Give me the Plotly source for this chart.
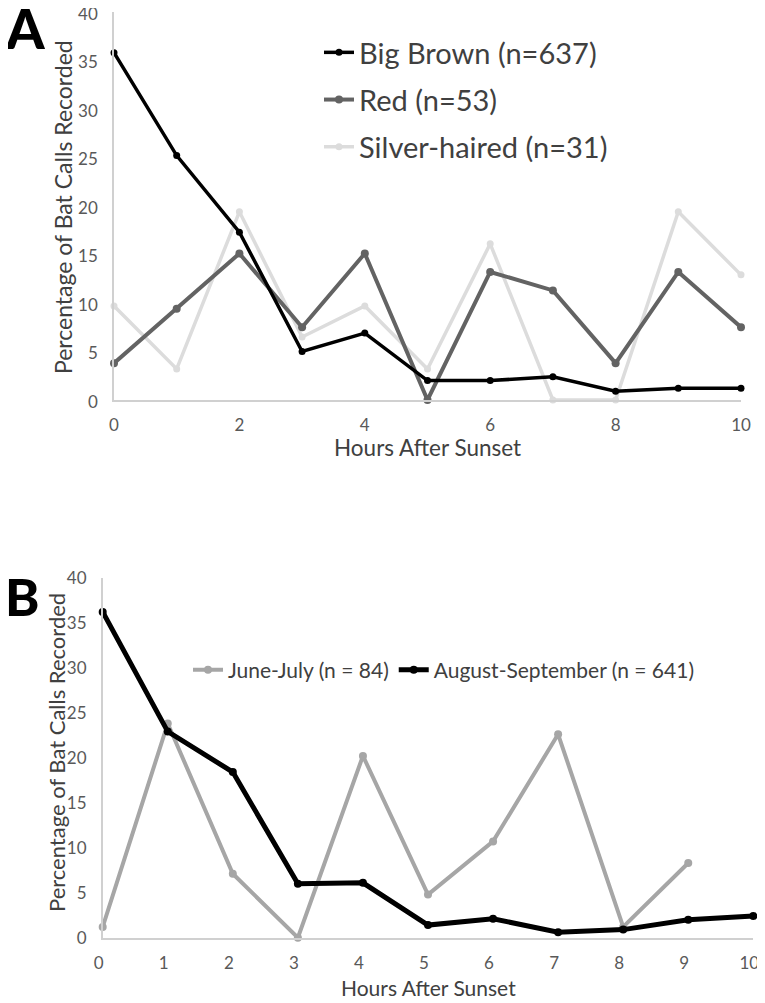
import plotly.graph_objects as go

W, H = 765, 1003
OFF = 8  # page body margin offset of the rendered html

# ---------------- data ----------------
hours_a = [0, 1, 2, 3, 4, 5, 6, 7, 8, 9, 10]
big_brown = [35.8, 25.2, 17.3, 5.0, 6.9, 2.0, 2.0, 2.4, 0.9, 1.2, 1.2]
red = [3.8, 9.4, 15.1, 7.5, 15.1, 0.0, 13.2, 11.3, 3.8, 13.2, 7.5]
silver = [9.7, 3.2, 19.4, 6.5, 9.7, 3.2, 16.1, 0.0, 0.0, 19.4, 12.9]

hours_b = [0, 1, 2, 3, 4, 5, 6, 7, 8, 9, 10]
june_july = [1.2, 23.8, 7.1, 0.0, 20.2, 4.8, 10.7, 22.6, 1.2, 8.3, None]
aug_sep = [36.2, 22.9, 18.4, 6.0, 6.1, 1.4, 2.1, 0.6, 0.9, 2.0, 2.4]

ticks_a_x = [0, 2, 4, 6, 8, 10]
ticks_b_x = [0, 1, 2, 3, 4, 5, 6, 7, 8, 9, 10]
ticks_y = [0, 5, 10, 15, 20, 25, 30, 35, 40]

FONT = "Lato"
TICKC = "#595959"
TITLEC = "#404040"
AXC = "#d0d0d0"

fig = go.Figure()

# Panel A traces (drawn light first, black on top)
fig.add_trace(go.Scatter(x=hours_a, y=silver, name="Silver-haired (n=31)", mode="lines+markers",
                         line=dict(color="#dcdcdc", width=3.5), marker=dict(size=7, color="#dcdcdc"),
                         xaxis="x", yaxis="y", legend="legend", legendgroup="s", legendrank=3,
                         cliponaxis=False))
fig.add_trace(go.Scatter(x=hours_a, y=red, name="Red (n=53)", mode="lines+markers",
                         line=dict(color="#636363", width=4), marker=dict(size=8, color="#636363"),
                         xaxis="x", yaxis="y", legend="legend", legendgroup="r", legendrank=2,
                         cliponaxis=False))
fig.add_trace(go.Scatter(x=hours_a, y=big_brown, name="Big Brown (n=637)", mode="lines+markers",
                         line=dict(color="#000000", width=3.5), marker=dict(size=7, color="#000000"),
                         xaxis="x", yaxis="y", legend="legend", legendgroup="b", legendrank=1,
                         cliponaxis=False))

# Panel B traces
fig.add_trace(go.Scatter(x=hours_b, y=june_july, name="June-July (n = 84)", mode="lines+markers",
                         line=dict(color="#a6a6a6", width=4), marker=dict(size=8, color="#a6a6a6"),
                         xaxis="x2", yaxis="y2", legend="legend2", cliponaxis=False))
fig.add_trace(go.Scatter(x=hours_b, y=aug_sep, name="August-September (n = 641)", mode="lines+markers",
                         line=dict(color="#000000", width=5), marker=dict(size=8, color="#000000"),
                         xaxis="x2", yaxis="y2", legend="legend2", cliponaxis=False))

def px_x(p):
    return (p - OFF) / W

def px_y(p):
    return 1 - (p - OFF) / H

axis_common = dict(showgrid=False, zeroline=False, showline=True, linecolor=AXC, linewidth=1.5,
                   ticks="", automargin=False, ticklabeloverflow="allow",
                   tickfont=dict(family=FONT, size=17, color=TICKC))

fig.update_layout(
    width=W, height=H,
    margin=dict(l=0, r=0, t=0, b=0, pad=0, autoexpand=False),
    paper_bgcolor="white", plot_bgcolor="white",
    font=dict(family=FONT),
    xaxis=dict(domain=[px_x(114), px_x(741)], range=[0, 10], anchor="y",
               tickvals=ticks_a_x, ticklabelstandoff=9, **axis_common),
    yaxis=dict(domain=[px_y(400), px_y(12)], range=[0, 40], anchor="x",
               tickvals=ticks_y, ticklabelstandoff=11, ticklabelshift=2, **axis_common),
    xaxis2=dict(domain=[px_x(102.7), px_x(753.3)], range=[0, 10], anchor="y2",
                tickvals=ticks_b_x, ticklabelstandoff=9, ticklabelshift=-4, **axis_common),
    yaxis2=dict(domain=[px_y(937.7), px_y(577.7)], range=[0, 40], anchor="x2",
                tickvals=ticks_y, ticklabelstandoff=11, **axis_common),
    legend=dict(x=px_x(319), y=px_y(27), xanchor="left", yanchor="top",
                orientation="v", traceorder="grouped", tracegroupgap=6.5, itemwidth=30,
                font=dict(family=FONT, size=29, color=TITLEC), bgcolor="rgba(0,0,0,0)"),
    legend2=dict(x=px_x(188), y=px_y(670), xanchor="left", yanchor="middle",
                 orientation="h", itemwidth=30,
                 font=dict(family=FONT, size=21, color=TITLEC), bgcolor="rgba(0,0,0,0)"),
    showlegend=True,
)

annotations = [
    dict(text="A", x=px_x(3), y=px_y(28), xanchor="left", yanchor="middle",
         font=dict(family=FONT, size=55, color="black", weight=900)),
    dict(text="B", x=px_x(3), y=px_y(596), xanchor="left", yanchor="middle",
         font=dict(family=FONT, size=52, color="black", weight=900)),
    dict(text="Percentage of Bat Calls Recorded", x=px_x(63), y=px_y(207), textangle=-90,
         xanchor="center", yanchor="middle", font=dict(family=FONT, size=23, color=TITLEC)),
    dict(text="Hours After Sunset", x=px_x(427.5), y=px_y(447),
         xanchor="center", yanchor="middle", font=dict(family=FONT, size=22.5, color=TITLEC)),
    dict(text="Percentage of Bat Calls Recorded", x=px_x(56), y=px_y(753), textangle=-90,
         xanchor="center", yanchor="middle", font=dict(family=FONT, size=22, color=TITLEC)),
    dict(text="Hours After Sunset", x=px_x(428), y=px_y(987),
         xanchor="center", yanchor="middle", font=dict(family=FONT, size=21, color=TITLEC)),
]
for a in annotations:
    a.update(xref="paper", yref="paper", showarrow=False)
fig.update_layout(annotations=annotations)

fig.write_html("out.html")
